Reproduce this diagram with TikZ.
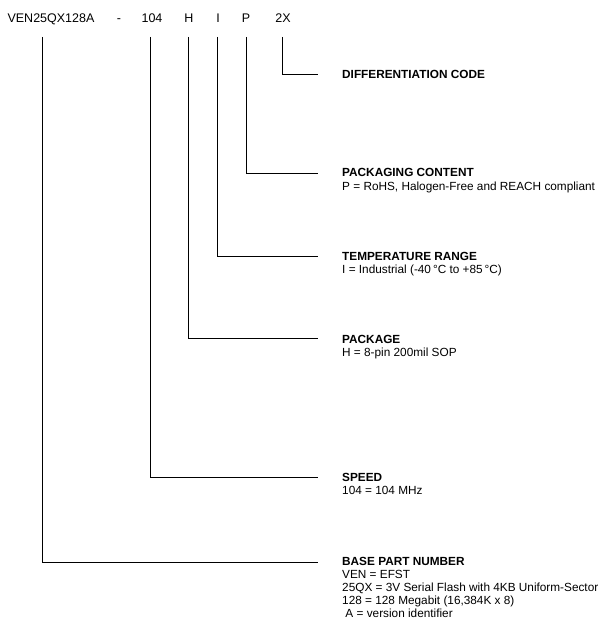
\documentclass[tikz,border=0pt]{standalone}
\usepackage{fontspec}
\setmainfont{Liberation Sans}
\begin{document}
\begin{tikzpicture}[x=1pt,y=-1pt,
  top/.style={anchor=base,inner sep=0pt,font=\fontsize{12.5}{14}\selectfont},
  head/.style={anchor=base west,inner sep=0pt,font=\fontsize{11.8}{13}\selectfont\bfseries},
  sub/.style={anchor=base west,inner sep=0pt,font=\fontsize{11.8}{13}\selectfont},
  ln/.style={line width=0.6pt}]
\useasboundingbox (0,0) rectangle (607,631);
\node[top] (t1) at (51,23) {VEN25QX128A};
\node[top] (t2) at (119,23) {-};
\node[top] (t3) at (152,23) {104};
\node[top] (t4) at (189,23) {H};
\node[top] (t5) at (218,23) {I};
\node[top] (t6) at (246,23) {P};
\node[top] (t7) at (283,23) {2X};
\coordinate (a1) at (42,37); \coordinate (b1) at (42,562); \coordinate (c1) at (318,562);
\coordinate (a3) at (150,37); \coordinate (b3) at (150,477); \coordinate (c3) at (318,477);
\coordinate (a4) at (188,37); \coordinate (b4) at (188,338); \coordinate (c4) at (318,338);
\coordinate (a5) at (217,37); \coordinate (b5) at (217,256); \coordinate (c5) at (318,256);
\coordinate (a6) at (246,37); \coordinate (b6) at (246,173); \coordinate (c6) at (318,173);
\coordinate (a7) at (282,37); \coordinate (b7) at (282,74); \coordinate (c7) at (318,74);
\foreach \i in {1,3,4,5,6,7} \draw[ln] (a\i) -- (b\i) -- (c\i);
\node[head] (h7) at (342,79) {DIFFERENTIATION CODE};
\node[head] (h6) at (342,177) {PACKAGING CONTENT};
\node[sub] (s6) at (342,190) {P = RoHS, Halogen-Free and REACH compliant};
\node[head] (h5) at (342,260) {TEMPERATURE RANGE};
\node[sub] (s5) at (342,273) {I = Industrial (-40\,°C to +85\,°C)};
\node[head] (h4) at (342,343) {PACKAGE};
\node[sub] (s4) at (342,356) {H = 8-pin 200mil SOP};
\node[head] (h3) at (342,481) {SPEED};
\node[sub] (s3) at (342,494) {104 = 104 MHz};
\node[head] (h1) at (342,565) {BASE PART NUMBER};
\node[sub] (s1a) at (342,578) {VEN = EFST};
\node[sub] (s1b) at (342,591) {25QX = 3V Serial Flash with 4KB Uniform-Sector};
\node[sub] (s1c) at (342,604) {128 = 128 Megabit (16,384K x 8)};
\node[sub] (s1d) at (342,617) {\ A = version identifier};
\end{tikzpicture}
\end{document}
